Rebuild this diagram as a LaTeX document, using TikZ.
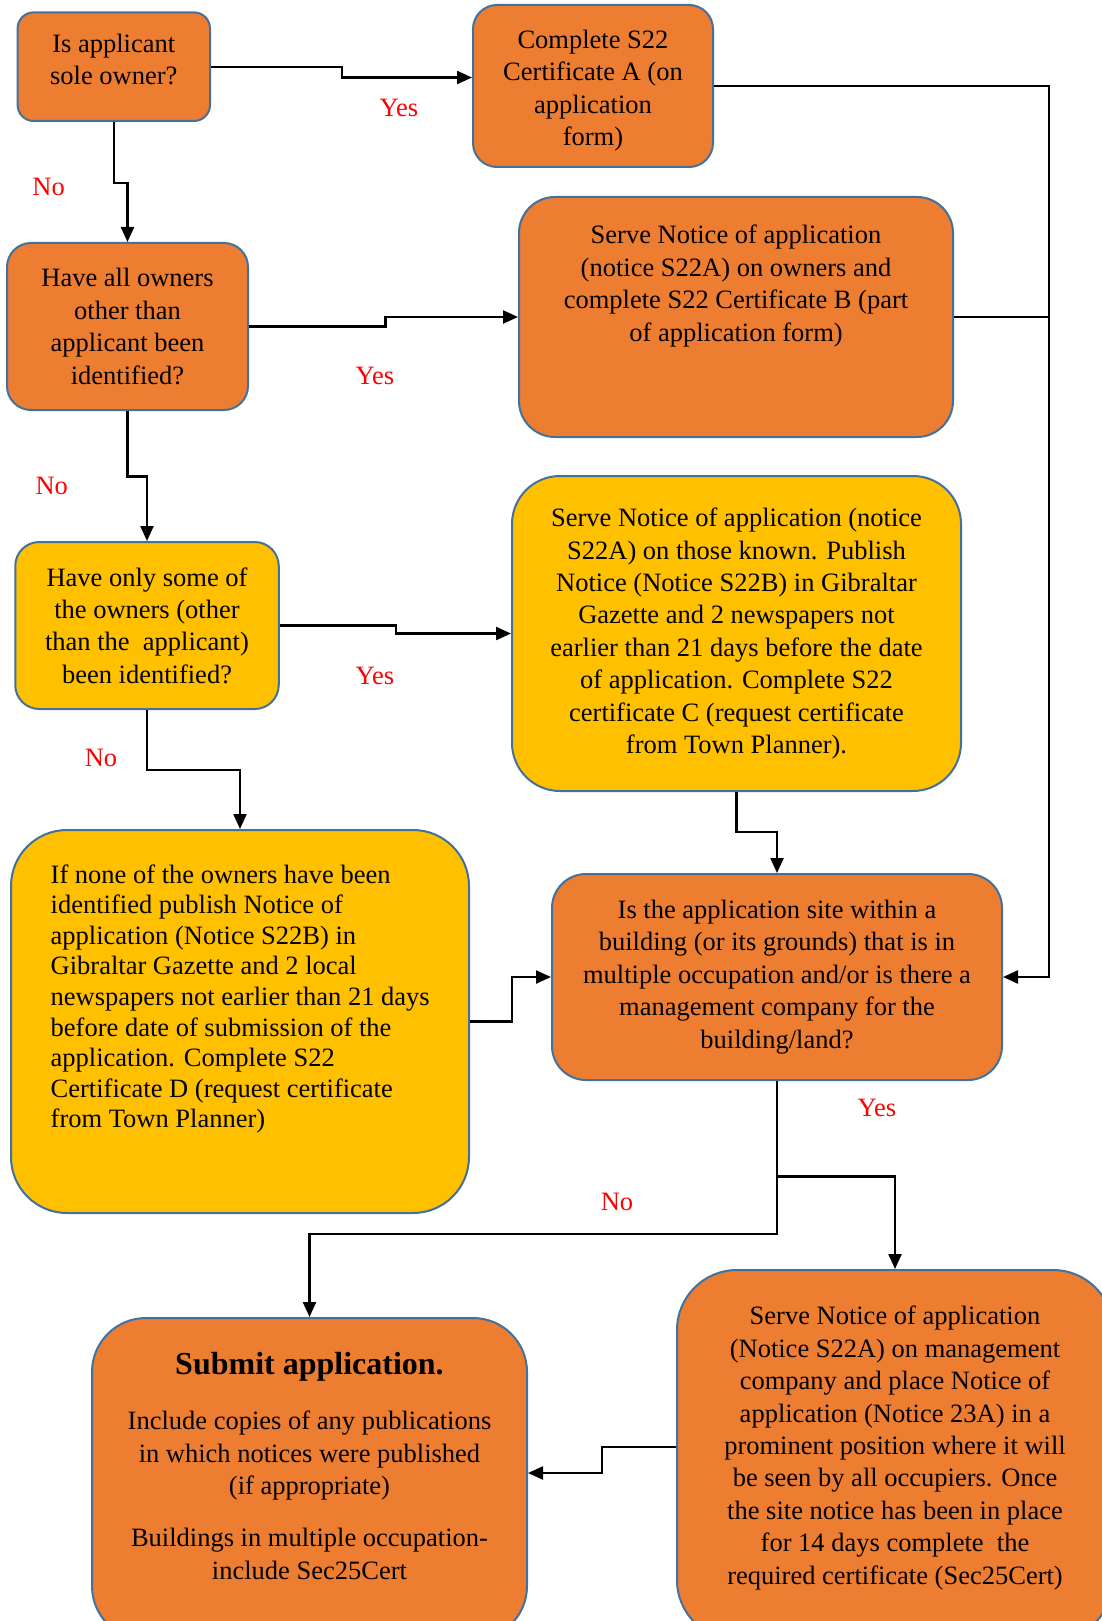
\documentclass[tikz,border=0pt]{standalone}
\usepackage{fontspec}
\setmainfont{Liberation Serif}
\usetikzlibrary{arrows.meta,calc}
\definecolor{edge}{RGB}{65,113,156}
\definecolor{orangefill}{RGB}{237,125,49}
\definecolor{yellowfill}{RGB}{255,192,0}
\definecolor{answer}{RGB}{255,0,0}
\tikzset{
  every picture/.style={line width=1.1pt, font=\fontsize{13.25}{16.2}\selectfont},
  box/.style={draw=edge, line width=1pt, rounded corners=#1, inner sep=0pt, align=center, text=black},
  box/.default=12pt,
  orangebox/.style={box=#1, fill=orangefill},
  orangebox/.default=12pt,
  yellowbox/.style={box=#1, fill=yellowfill},
  yellowbox/.default=12pt,
  txt/.style={inner sep=0pt, align=center},
  flow/.style={-{Triangle[length=7.5pt,width=6.5pt]}, line width=1.15pt},
  yesno/.style={text=answer, inner sep=1pt},
}

\begin{document}
\begin{tikzpicture}[x=0.5pt, y=-0.5pt]
  \useasboundingbox (0,0) rectangle (1102,1621);
  \clip (0,0) rectangle (1102,1621);
  % boxes
  \node[orangebox=8pt, minimum width=96.2pt, minimum height=54.3pt] (sole) at (113.8,66.7) {};
  \node[txt] (soletxt) at (113.8,59.5) {Is applicant\\sole owner?};
  \node[orangebox=12pt, minimum width=120pt, minimum height=81pt] (certA) at (593,86) {};
  \node[txt] (certAtxt) at (593,90.5) {Complete S22\\Certificate A (on\\application\\form)};
  \node[orangebox=12pt, minimum width=120.5pt, minimum height=83.5pt] (allown) at (127.5,326.5) {Have all owners\\other than\\applicant been\\identified?};
  \node[orangebox=18pt, minimum width=217pt, minimum height=120pt] (certB) at (736,317) {};
  \node[txt] (certBtxt) at (736,286) {Serve Notice of application\\(notice S22A) on owners and\\complete S22 Certificate B (part\\of application form)};
  \node[yellowbox=12pt, minimum width=131.75pt, minimum height=83.5pt] (some) at (147,625.5) {Have only some of\\the owners (other\\than the\ \ applicant)\\been identified?};
  \node[yellowbox=24pt, minimum width=224.5pt, minimum height=157.5pt] (certC) at (736.5,633.5) {Serve Notice of application (notice\\S22A) on those known. Publish\\Notice (Notice S22B) in Gibraltar\\Gazette and 2 newspapers not\\earlier than 21 days before the date\\of application. Complete S22\\certificate C (request certificate\\from Town Planner).};
  \node[yellowbox=28pt, minimum width=229pt, minimum height=191.5pt] (certD) at (240,1021.5) {};
  \node[txt, align=left, anchor=west, font=\fontsize{13.25}{15.3}\selectfont] (certDtxt) at (49.6,999) {If none of the owners have been\\identified publish Notice of\\application (Notice S22B) in\\Gibraltar Gazette and 2 local\\newspapers not earlier than 21 days\\before date of submission of the\\application. Complete S22\\Certificate D (request certificate\\from Town Planner)};
  \node[orangebox=17pt, minimum width=225pt, minimum height=103pt] (multi) at (777,977) {Is the application site within a\\building (or its grounds) that is in\\multiple occupation and/or is there a\\management company for the\\building/land?};
  \node[orangebox=27pt, minimum width=217.5pt, minimum height=161pt] (submit) at (309.5,1479) {};
  \node[txt, anchor=north] (submittxt) at (309.5,1351) {{\bfseries\fontsize{16}{19}\selectfont Submit application.}\\[11.5pt]Include copies of any publications\\in which notices were published\\(if appropriate)\\[10pt]Buildings in multiple occupation-\\include Sec25Cert};
  \node[orangebox=30pt, minimum width=218pt, minimum height=185pt] (mgmt) at (895,1455) {};
  \node[txt] (mgmttxt) at (895,1448) {Serve Notice of application\\(Notice S22A) on management\\company and place Notice of\\application (Notice 23A) in a\\prominent position where it will\\be seen by all occupiers. Once\\the site notice has been in place\\for 14 days complete\ \ the\\required certificate (Sec25Cert)};
  % connectors
  \draw[flow] (sole.east) -- ++(131,0) |- ($(certA.west)+(0,-8.5)$);
  \draw[flow] (sole.south) -- ++(0,61) -| (allown.north);
  \draw[flow] (allown.east) -- ++(136.6,0) |- (certB.west);
  \draw[flow] (allown.south) -- ++(0,65.5) -| (some.north);
  \draw[flow] (some.east) -- ++(116,0) |- (certC.west);
  \draw[flow] (some.south) -- ++(0,60) -| (certD.north);
  \draw[flow] (certC.south) -- ++(0,40) -| (multi.north);
  \draw[flow] (certD.east) -- ++(41.7,0) |- (multi.west);
  \coordinate (trunk) at (1049,86);
  \draw[flow] (certA.east) -- (trunk) |- (multi.east);
  \draw (certB.east) -- (certB.east -| trunk);
  \draw[flow] (multi.south) -- ++(0,153) -| (submit.north);
  \coordinate (split) at ($(multi.south)+(0,95.5)$);
  \draw[flow] (split) -| (mgmt.north);
  \draw[flow] ($(mgmt.west)+(0,-8)$) -- ++(-74,0) |- ($(submit.east)+(0,-6)$);
  % answers
  \node[yesno] (yes1) at (399,107.5) {Yes};
  \node[yesno] (no1) at (48.6,187) {No};
  \node[yesno] (yes2) at (375,376) {Yes};
  \node[yesno] (no2) at (51.7,486) {No};
  \node[yesno] (yes3) at (375,676) {Yes};
  \node[yesno] (no3) at (101,758) {No};
  \node[yesno] (yes4) at (877,1108) {Yes};
  \node[yesno] (no4) at (617,1202) {No};
\end{tikzpicture}
\end{document}
